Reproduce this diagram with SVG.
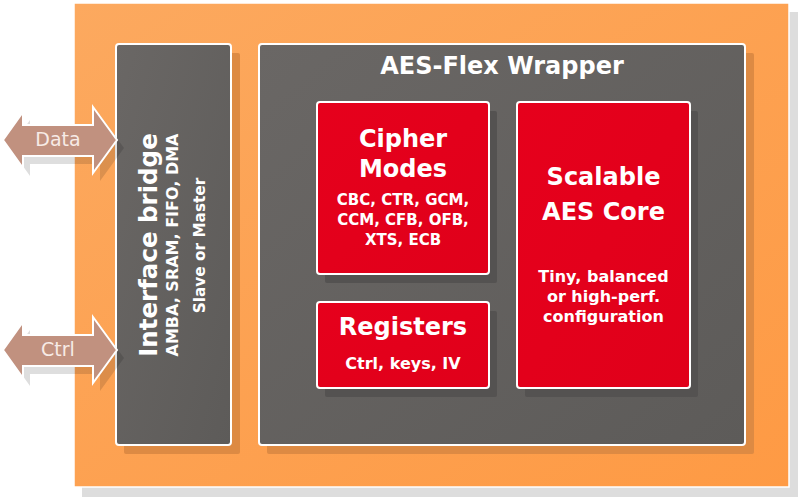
<svg xmlns="http://www.w3.org/2000/svg" width="800" height="499" viewBox="0 0 800 499">
  <defs>
    <linearGradient id="gOrange" x1="0" y1="0" x2="1" y2="1">
      <stop offset="0" stop-color="#fca95f"/>
      <stop offset="1" stop-color="#fe9a44"/>
    </linearGradient>
    <linearGradient id="gGray" x1="0" y1="0" x2="1" y2="1">
      <stop offset="0" stop-color="#6a6765"/>
      <stop offset="1" stop-color="#5d5b59"/>
    </linearGradient>
    <linearGradient id="gRed" x1="0" y1="0" x2="1" y2="1">
      <stop offset="0" stop-color="#e6001c"/>
      <stop offset="1" stop-color="#e0001a"/>
    </linearGradient>
    <polygon id="dblArrow" points="3,140 23,112 23,125 93,125 93,107 117,140 93,173 93,156 23,156 23,168"/>
  </defs>
  <style>
    .box { stroke: #ffffff; stroke-width: 2; }
    .gray { fill: url(#gGray); }
    .red { fill: url(#gRed); }
    .shOrange { fill: #dd8a43; }
    .shGray { fill: #545251; }
    .t { font-family: "DejaVu Sans", Verdana, sans-serif; font-weight: bold; fill: #ffffff; text-anchor: middle; }
    .arrow { fill: #c1917f; stroke: #ffffff; stroke-width: 2; stroke-linejoin: miter; }
    .arrowSh { fill: #000000; opacity: 0.13; }
    .al { font-family: "DejaVu Sans", Verdana, sans-serif; font-size: 19px; fill: #f7ebe6; text-anchor: middle; }
  </style>

  <g id="outer">
    <rect x="82" y="12" width="716" height="485" fill="#dddddd"/>
    <rect x="74" y="3" width="715" height="484" fill="url(#gOrange)" stroke="#ffffff" stroke-width="1.5"/>
  </g>

  <g id="interface-bridge">
    <rect class="shOrange" x="124" y="53" width="116" height="401" rx="2"/>
    <rect class="box gray" x="116" y="44" width="115" height="401" rx="3"/>
    <text class="t" transform="translate(157,245) rotate(-90)" font-size="24.5">Interface bridge</text>
    <text class="t" transform="translate(178,245) rotate(-90)" font-size="16">AMBA, SRAM, FIFO, DMA</text>
    <text class="t" transform="translate(205,245.5) rotate(-90)" font-size="15.3">Slave or Master</text>
  </g>

  <g id="wrapper">
    <rect class="shOrange" x="267" y="53" width="487" height="401" rx="2"/>
    <rect class="box gray" x="259" y="44" width="486" height="401" rx="3"/>
    <text class="t" x="502" y="74" font-size="24">AES-Flex Wrapper</text>
  </g>

  <g id="cipher-modes">
    <rect class="shGray" x="325" y="111" width="172" height="172" rx="2"/>
    <rect class="box red" x="317" y="102" width="172" height="172" rx="3"/>
    <text class="t" x="403" y="147" font-size="24">Cipher</text>
    <text class="t" x="403" y="177" font-size="24">Modes</text>
    <text class="t" x="403" y="205" font-size="15">CBC, CTR, GCM,</text>
    <text class="t" x="403" y="225" font-size="15">CCM, CFB, OFB,</text>
    <text class="t" x="403" y="245" font-size="15">XTS, ECB</text>
  </g>

  <g id="registers">
    <rect class="shGray" x="325" y="311" width="172" height="86" rx="2"/>
    <rect class="box red" x="317" y="302" width="172" height="86" rx="3"/>
    <text class="t" x="403" y="335" font-size="24">Registers</text>
    <text class="t" x="403" y="369" font-size="16">Ctrl, keys, IV</text>
  </g>

  <g id="aes-core">
    <rect class="shGray" x="525" y="111" width="173" height="286" rx="2"/>
    <rect class="box red" x="517" y="102" width="173" height="286" rx="3"/>
    <text class="t" x="603.5" y="185" font-size="24">Scalable</text>
    <text class="t" x="603.5" y="220" font-size="24">AES Core</text>
    <text class="t" x="603.5" y="282" font-size="16">Tiny, balanced</text>
    <text class="t" x="603.5" y="302" font-size="16">or high-perf.</text>
    <text class="t" x="603.5" y="322" font-size="16">configuration</text>
  </g>

  <g id="connectors">
    <g id="data-arrow">
      <use href="#dblArrow" class="arrowSh" transform="translate(7,8)"/>
      <use href="#dblArrow" class="arrow"/>
      <text class="al" x="58" y="146">Data</text>
    </g>
    <g id="ctrl-arrow" transform="translate(0,210)">
      <use href="#dblArrow" class="arrowSh" transform="translate(7,8)"/>
      <use href="#dblArrow" class="arrow"/>
      <text class="al" x="58" y="146">Ctrl</text>
    </g>
  </g>
</svg>
